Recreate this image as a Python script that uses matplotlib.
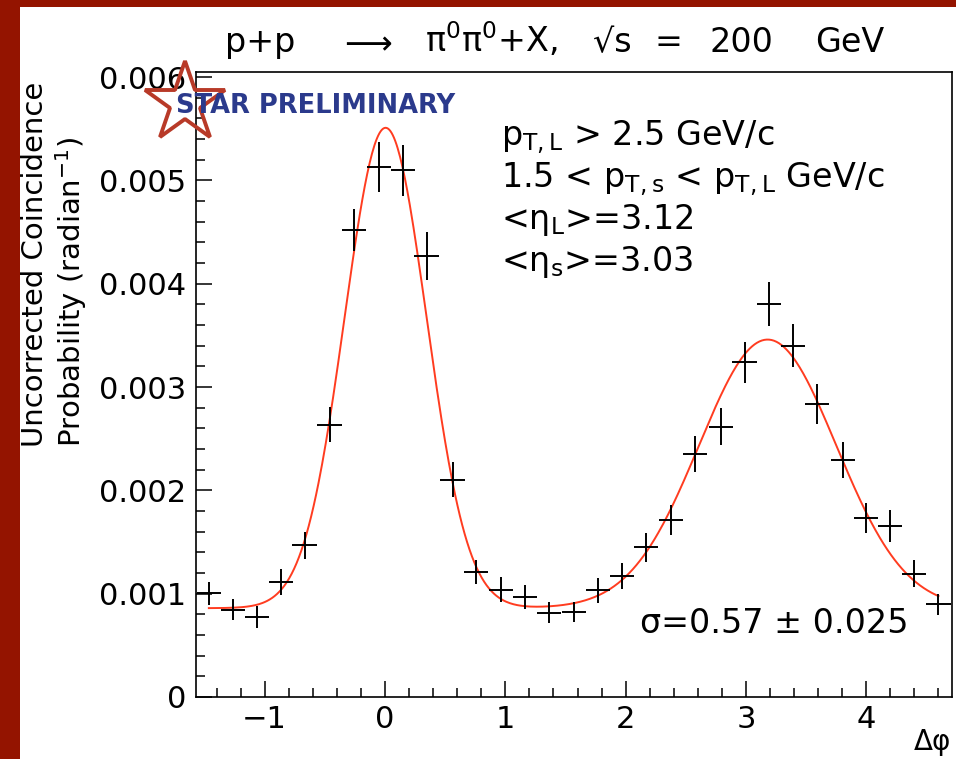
import numpy as np
import matplotlib
matplotlib.use("Agg")
import matplotlib.pyplot as plt
from matplotlib.ticker import MultipleLocator, FuncFormatter
from matplotlib.patches import Rectangle

plt.rcParams["font.family"] = ["DejaVu Sans"]
plt.rcParams["mathtext.default"] = "regular"

# Azimuthal correlation of forward pi0 pairs (bin centres, radians)
dphi = [-1.464, -1.265, -1.063, -0.864, -0.669, -0.461, -0.254, -0.050,
        0.146, 0.345, 0.561, 0.760, 0.967, 1.160, 1.360, 1.570,
        1.770, 1.970, 2.170, 2.375, 2.577, 2.789, 2.988, 3.190,
        3.390, 3.590, 3.810, 4.000, 4.200, 4.400, 4.600]
prob = [0.001002, 0.000847, 0.000776, 0.001114, 0.001469, 0.002635, 0.004522, 0.005130,
        0.005098, 0.004271, 0.002105, 0.001211, 0.001040, 0.000969, 0.000815, 0.000824,
        0.001034, 0.001169, 0.001448, 0.001710, 0.002348, 0.002618, 0.003240, 0.003804,
        0.003401, 0.002838, 0.002297, 0.001732, 0.001655, 0.001195, 0.000896]
prob_err = [0.000113, 0.000100, 0.000107, 0.000124, 0.000132, 0.000169, 0.000206, 0.000245,
            0.000245, 0.000230, 0.000166, 0.000116, 0.000118, 0.000120, 0.000100, 0.000100,
            0.000120, 0.000126, 0.000142, 0.000145, 0.000174, 0.000182, 0.000200, 0.000214,
            0.000208, 0.000192, 0.000174, 0.000145, 0.000153, 0.000129, 0.000100]
half_bin = 0.1

# Fit: constant + near-side Gaussian + away-side Gaussian
fit_const = 0.00086
near_amp, near_mu, near_sigma = 0.00465, 0.005, 0.34
away_amp, away_mu, away_sigma = 0.00260, 3.18, 0.57
away_sigma_err = 0.025


def fit_func(x):
    return (fit_const
            + near_amp * np.exp(-0.5 * ((x - near_mu) / near_sigma) ** 2)
            + away_amp * np.exp(-0.5 * ((x - away_mu) / away_sigma) ** 2))


W, H = 956, 759
fig = plt.figure(figsize=(W / 100, H / 100), dpi=100)
fig.patch.set_facecolor("#941400")
fig.add_artist(Rectangle((20 / W, 0), 1 - 20 / W, 1 - 7 / H,
                         transform=fig.transFigure, facecolor="white",
                         edgecolor="none", zorder=0))

ax = fig.add_axes([196 / W, 1 - 697 / H, (952 - 196) / W, (697 - 72) / H])
ax.set_facecolor("white")
ax.set_xlim(-np.pi / 2, 3 * np.pi / 2)
ax.set_ylim(0, 0.00605)

xs = np.linspace(dphi[0], dphi[-1], 600)
ax.plot(xs, fit_func(xs), color="#ff3c20", lw=1.4, zorder=2)
ax.errorbar(dphi, prob, yerr=prob_err, xerr=half_bin, fmt="none",
            ecolor="black", elinewidth=1.4, capsize=0, zorder=3)

ax.xaxis.set_major_locator(MultipleLocator(1))
ax.xaxis.set_minor_locator(MultipleLocator(0.2))
ax.yaxis.set_major_locator(MultipleLocator(0.001))
ax.yaxis.set_minor_locator(MultipleLocator(0.0002))
ax.yaxis.set_major_formatter(FuncFormatter(lambda v, p: "0" if abs(v) < 1e-12 else f"{v:.3f}"))
ax.tick_params(which="both", direction="in", top=False, right=False,
               width=1.1, color="black", labelsize=22)
ax.tick_params(which="major", length=11.5)
ax.tick_params(which="minor", length=6.5)
ax.tick_params(axis="y", pad=7)
ax.tick_params(axis="x", pad=6)
for s in ax.spines.values():
    s.set_linewidth(1.2)
    s.set_color("black")

# Title, set in widely spaced pieces
title_parts = [(225, "p+p"), (338, r"$\longrightarrow$"), (425, r"$\pi^0\pi^0$+X,"),
               (593, "√s"), (655, "="), (710, "200"), (815, "GeV")]
for xpix, part in title_parts:
    fig.text(xpix / W, 1 - 52 / H, part, fontsize=24, ha="left", va="baseline")

fig.text(951 / W, 1 - 758 / H, r"$\Delta\varphi$", fontsize=20,
         ha="right", va="bottom")
fig.text(55 / W, 1 - 447 / H,
         "Uncorrected Coincidence\nProbability (radian$^{-1}$)",
         rotation=90, fontsize=21, ha="center", va="bottom",
         multialignment="left", linespacing=1.12)

# Kinematic selections
cuts = [r"$p_{T,L}$ > 2.5 GeV/c",
        r"1.5 < $p_{T,s}$ < $p_{T,L}$ GeV/c",
        r"<$\eta_L$>=3.12",
        r"<$\eta_s$>=3.03"]
for i, line in enumerate(cuts):
    fig.text(501 / W, 1 - (145 + 42 * i) / H, line, fontsize=24,
             ha="left", va="baseline")

fig.text(640 / W, 1 - 633 / H, f"σ={away_sigma:.2f} ± {away_sigma_err:.3f}",
         fontsize=24, ha="left", va="baseline")

# Preliminary stamp
fig.add_artist(plt.Line2D([185 / W], [1 - 103 / H], transform=fig.transFigure,
                          marker="*", markersize=61, markerfacecolor="none",
                          markeredgecolor="#b83a28", markeredgewidth=2.8,
                          linestyle="none", zorder=10))
fig.text(176 / W, 1 - 106 / H, "STAR PRELIMINARY", fontsize=18.5,
         fontweight="bold", color="#2b3a8c", ha="left", va="center",
         zorder=11)

fig.savefig("out.png", dpi=100, facecolor=fig.get_facecolor())
